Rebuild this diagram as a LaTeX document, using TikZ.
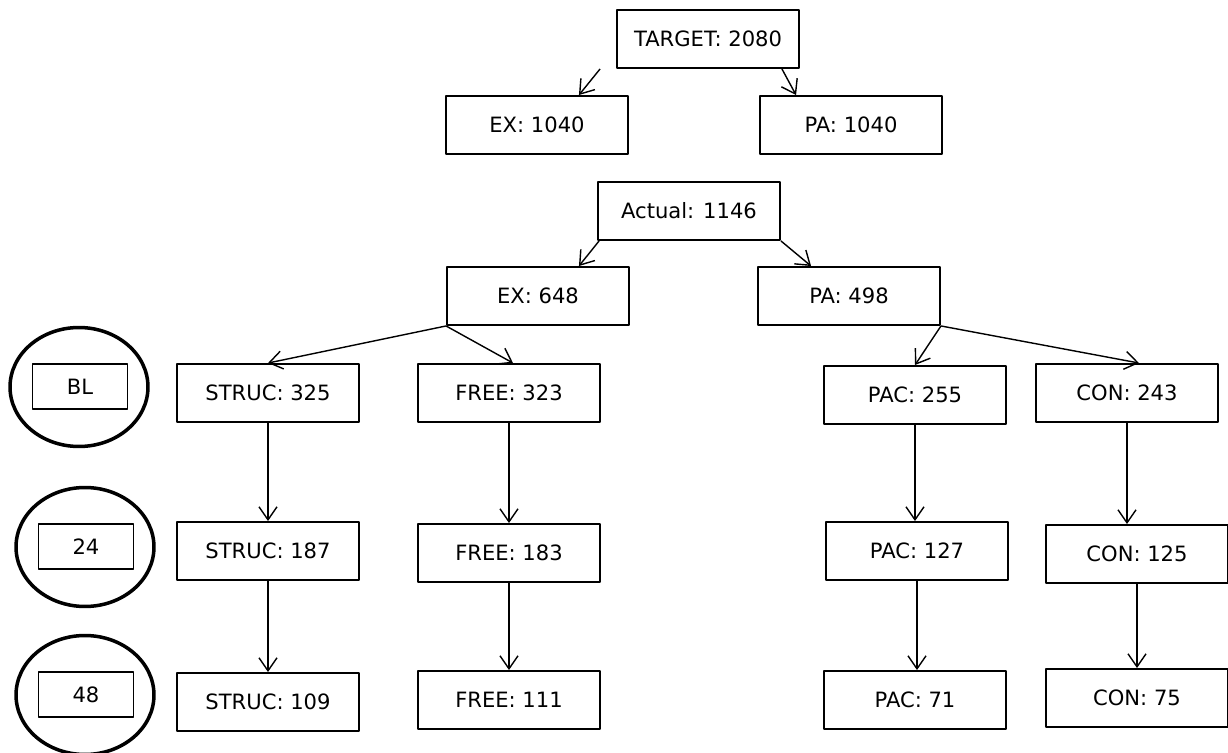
\documentclass[tikz,border=0pt]{standalone}
\usepackage{fontspec}
\setmainfont{DejaVu Sans}
\usetikzlibrary{arrows.meta,shapes.geometric}
\tikzset{
	box/.style={draw, line width=1.1pt, minimum width=3.64cm, minimum height=1.16cm, inner sep=0pt},
	tag/.style={draw, line width=1.1pt, minimum width=1.9cm, minimum height=0.9cm, inner sep=0pt},
	ring/.style={draw, ellipse, line width=2pt, minimum width=2.76cm, minimum height=2.38cm, inner sep=0pt},
	link/.style={->, line width=0.8pt}
}
\begin{document}
\begin{tikzpicture}[x=0.02cm, y=-0.02cm, font=\fontsize{12}{14}\selectfont, line join=round, >={Straight Barb[length=2.6mm,width=3.6mm]}]
			\useasboundingbox (0,0) rectangle (1228,753);
			% plan and actual
			\foreach \n/\x/\y/\t in {
				Target/708/39/{TARGET: 2080},
				ExPlan/537/125/{EX: 1040}, PaPlan/851/125/{PA: 1040},
				Actual/689/211/{Actual: 1146},
				ExAct/538/296/{EX: 648}, PaAct/849/296/{PA: 498}}
				\node[box] (\n) at (\x,\y) {\t};
			% three levels
			\foreach \n/\x/\y/\t in {
				StrucA/268/393/{STRUC: 325}, FreeA/509/393/{FREE: 323},
				PacA/915/395/{PAC: 255}, ConA/1127/393/{CON: 243},
				StrucB/268/551/{STRUC: 187}, FreeB/509/553/{FREE: 183},
				PacB/917/551/{PAC: 127}, ConB/1137/554/{CON: 125},
				StrucC/268/702/{STRUC: 109}, FreeC/509/700/{FREE: 111},
				PacC/915/700/{PAC: 71}, ConC/1137/698/{CON: 75}}
				\node[box] (\n) at (\x,\y) {\t};
			\foreach \n/\x/\y/\t in {
				BL/79/387/BL, W24/85/547/24, W48/85/695/48}{
				\node[ring] (ring\n) at (\x,\y) {};
				\node[tag] (tag\n) at ({\x+1},{\y-0.5}) {\t};
			}
			\draw[link] ([shift={(-16,0)}]Target.south west)--([shift={(-50,0)}]ExPlan.north east);
			\draw[link] ([shift={(-18,0)}]Target.south east)--([shift={(37,0)}]PaPlan.north west);
			\draw[link] ([shift={(2,0)}]Actual.south west)--([shift={(-51,0)}]ExAct.north east);
			\draw[link] (Actual.south east)--([shift={(54,0)}]PaAct.north west);
			\draw[link] (ExAct.south west)--(StrucA.north);
			\draw[link] (ExAct.south west)--([shift={(4,0)}]FreeA.north);
			\draw[link] (PaAct.south east)--(PacA.north);
			\draw[link] (PaAct.south east)--([shift={(12,0)}]ConA.north);
			\foreach \p/\q in {StrucA/StrucB,StrucB/StrucC,FreeA/FreeB,FreeB/FreeC,
				PacA/PacB,PacB/PacC,ConA/ConB,ConB/ConC}
				\draw[link] (\p.south)--(\p.south|-\q.north);
			\end{tikzpicture}
\end{document}
